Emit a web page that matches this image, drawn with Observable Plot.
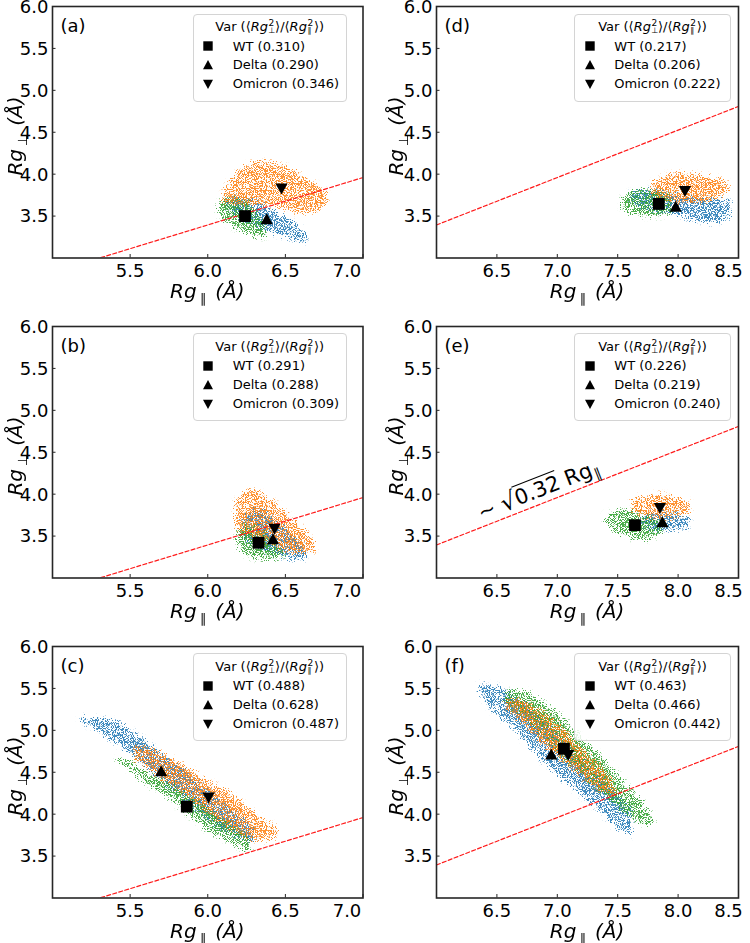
<!DOCTYPE html>
<html><head><meta charset="utf-8">
<script src="https://cdn.jsdelivr.net/npm/d3@7"></script>
<script src="https://cdn.jsdelivr.net/npm/@observablehq/plot@0.6"></script>
<style>
body{margin:0;background:#fff;font-family:"DejaVu Sans",sans-serif;}
#fig{position:relative;width:750px;height:943px;overflow:hidden;background:#fff;}
#fig svg.pl{position:absolute;overflow:visible;}
.leg{position:absolute;height:88px;border:1px solid #d4d4d4;border-radius:4px;background:rgba(255,255,255,0.85);box-sizing:border-box;font-size:13px;line-height:16px;color:#000;white-space:nowrap;}
.leg .t{position:absolute;left:0;right:0;top:4.8px;text-align:center;}
.leg .r{position:absolute;left:0;right:0;height:16px;}
.leg .r svg{position:absolute;left:8.6px;top:1.5px;}
.leg .r span.n{position:absolute;left:39px;top:0;}
.st{display:inline-block;position:relative;width:7px;height:12px;vertical-align:baseline;}
.st .p{position:absolute;left:0.5px;top:-0.6px;font-size:9px;line-height:9px;font-style:normal;}
.st .b{position:absolute;left:0.5px;top:7.9px;font-size:8px;line-height:8px;font-style:normal;}
.ax{position:absolute;font-size:20px;line-height:20px;white-space:nowrap;color:#000;filter:grayscale(1);}
.ax .sb{font-size:13px;position:relative;top:5px;margin-left:3px;margin-right:9px;font-style:normal;color:#000;}
.ann{position:absolute;font-size:21px;line-height:26px;white-space:nowrap;color:#000;transform-origin:0 20.3px;transform:rotate(-21.4deg);}
.ann .rad{font-size:24px;position:relative;top:1px;}
.ann .ol{border-top:1.4px solid #000;padding-top:0px;}
.ann .sb2{font-size:14px;position:relative;top:4px;margin-left:1px;}
</style></head>
<body>
<svg width="0" height="0" style="position:absolute"><defs id="fdefs"></defs></svg>
<div id="fig"></div>
<script>
// ---------- scales / ticks ----------
const xDomainLeft = [5.0, 7.0];
const xTicksLeft = [5.5, 6.0, 6.5, 7.0];
const xDomainRight = [6.0, 8.5];
const xTicksRight = [6.5, 7.0, 7.5, 8.0, 8.5];
const yDomain = [3.0, 6.0];
const yTicks = [3.5, 4.0, 4.5, 5.0, 5.5, 6.0];
const seriesNames = ["WT", "Delta", "Omicron"];
const lineCoef = Math.sqrt(0.32); // reference line  Rg_perp ~ sqrt(0.32) Rg_par

// ---------- clouds: [x, yLow, yHigh] extents ----------
const a_blue   = [[6.12,3.60,3.68],[6.18,3.50,3.72],[6.25,3.42,3.72],[6.32,3.36,3.67],[6.40,3.30,3.60],[6.47,3.26,3.52],[6.54,3.22,3.44],[6.60,3.19,3.36],[6.64,3.18,3.26]];
const a_orange = [[6.10,3.66,3.76],[6.16,3.63,3.96],[6.22,3.61,4.07],[6.30,3.61,4.14],[6.40,3.61,4.14],[6.50,3.57,4.09],[6.60,3.53,4.00],[6.70,3.55,3.88],[6.77,3.64,3.78]];
const a_green  = [[6.07,3.52,3.64],[6.11,3.44,3.72],[6.17,3.36,3.74],[6.23,3.30,3.70],[6.29,3.26,3.62],[6.34,3.24,3.52],[6.38,3.25,3.38]];

const b_blue   = [[6.22,3.50,3.70],[6.28,3.40,3.80],[6.34,3.34,3.82],[6.40,3.29,3.76],[6.46,3.25,3.66],[6.52,3.22,3.56],[6.58,3.21,3.46],[6.64,3.22,3.34]];
const b_orange = [[6.18,3.60,3.90],[6.24,3.52,4.02],[6.31,3.46,4.04],[6.38,3.41,3.97],[6.46,3.34,3.86],[6.54,3.29,3.72],[6.62,3.28,3.58],[6.69,3.31,3.44]];
const b_green  = [[6.19,3.38,3.52],[6.23,3.29,3.62],[6.28,3.24,3.64],[6.34,3.22,3.60],[6.40,3.22,3.48],[6.46,3.23,3.38],[6.50,3.26,3.32]];

const c_blue   = [[5.18,5.11,5.16],[5.31,4.96,5.14],[5.44,4.80,5.08],[5.57,4.62,4.92],[5.70,4.40,4.72],[5.83,4.20,4.56],[5.96,4.00,4.36],[6.09,3.80,4.16],[6.22,3.70,3.98],[6.30,3.65,3.82]];
const c_orange = [[5.53,4.64,4.84],[5.63,4.52,4.78],[5.74,4.36,4.70],[5.87,4.20,4.56],[6.00,4.00,4.40],[6.13,3.84,4.28],[6.26,3.70,4.08],[6.39,3.68,3.90],[6.45,3.72,3.84]];
const c_green  = [[5.42,4.60,4.66],[5.50,4.52,4.62],[5.57,4.40,4.54],[5.63,4.32,4.48],[5.74,4.20,4.40],[5.87,4.00,4.24],[6.00,3.80,4.08],[6.13,3.68,3.92],[6.22,3.58,3.80],[6.28,3.56,3.68]];

const d_blue   = [[7.60,3.65,3.77],[7.74,3.57,3.81],[7.88,3.53,3.79],[8.02,3.49,3.75],[8.16,3.43,3.73],[8.30,3.41,3.71],[8.44,3.47,3.67]];
const d_orange = [[7.78,3.74,3.88],[7.91,3.67,3.99],[8.05,3.65,4.01],[8.19,3.65,3.99],[8.32,3.69,3.95],[8.42,3.77,3.89]];
const d_green  = [[7.54,3.58,3.72],[7.63,3.51,3.79],[7.74,3.49,3.81],[7.85,3.49,3.79],[7.95,3.53,3.73]];

const e_blue   = [[7.70,3.61,3.74],[7.80,3.57,3.78],[7.91,3.55,3.78],[8.02,3.57,3.76],[8.10,3.61,3.72]];
const e_orange = [[7.62,3.80,3.94],[7.72,3.72,3.98],[7.86,3.70,4.00],[7.99,3.72,3.96],[8.10,3.76,3.90]];
const e_green  = [[7.40,3.67,3.76],[7.50,3.53,3.80],[7.61,3.47,3.80],[7.72,3.45,3.76],[7.83,3.49,3.70],[7.87,3.53,3.64]];

const f_blue   = [[6.35,5.46,5.55],[6.49,5.20,5.53],[6.65,5.00,5.42],[6.82,4.72,5.22],[6.99,4.48,5.00],[7.15,4.28,4.76],[7.32,4.08,4.52],[7.48,3.84,4.28],[7.62,3.73,4.04]];
const f_orange = [[6.57,5.28,5.40],[6.74,5.04,5.34],[6.90,4.80,5.20],[7.07,4.60,5.00],[7.23,4.40,4.76],[7.40,4.24,4.52],[7.48,4.20,4.36]];
const f_green  = [[6.56,5.32,5.46],[6.74,5.12,5.46],[6.90,4.88,5.32],[7.07,4.64,5.12],[7.23,4.44,4.88],[7.40,4.20,4.64],[7.57,4.00,4.36],[7.70,3.88,4.16],[7.80,3.85,3.96]];

// ---------- averages (WT, Delta, Omicron) as [x, y] ----------
const a_means = [[6.240,3.500],[6.380,3.460],[6.475,3.830]];
const b_means = [[6.327,3.420],[6.420,3.460],[6.430,3.590]];
const c_means = [[5.865,4.090],[5.700,4.510],[6.005,4.200]];
const d_means = [[7.840,3.645],[7.980,3.610],[8.057,3.800]];
const e_means = [[7.643,3.630],[7.870,3.665],[7.850,3.836]];
const f_means = [[7.055,4.780],[6.950,4.710],[7.090,4.707]];

// ---------- legend values Var(<Rg_perp^2>/<Rg_par^2>) ----------
const a_var = ["0.310","0.290","0.346"];
const b_var = ["0.291","0.288","0.309"];
const c_var = ["0.488","0.628","0.487"];
const d_var = ["0.217","0.206","0.222"];
const e_var = ["0.226","0.219","0.240"];
const f_var = ["0.463","0.466","0.442"];

const colors = {blue:"#1f77b4", orange:"#ff7f0e", green:"#2ca02c"};

const panels = [
  {letter:"(a)", col:0, row:0, blue:a_blue, orange:a_orange, green:a_green, means:a_means, vars:a_var},
  {letter:"(b)", col:0, row:1, blue:b_blue, orange:b_orange, green:b_green, means:b_means, vars:b_var},
  {letter:"(c)", col:0, row:2, blue:c_blue, orange:c_orange, green:c_green, means:c_means, vars:c_var},
  {letter:"(d)", col:1, row:0, blue:d_blue, orange:d_orange, green:d_green, means:d_means, vars:d_var},
  {letter:"(e)", col:1, row:1, blue:e_blue, orange:e_orange, green:e_green, means:e_means, vars:e_var, note:true},
  {letter:"(f)", col:1, row:2, blue:f_blue, orange:f_orange, green:f_green, means:f_means, vars:f_var}
];

// ---------- layout ----------
const geom = {colL:[52,436], colW:[310.5,302], svgLeft:[0,375], rowT:[6.3,326,646], H:251.5,
              legLeft:[140.7,138.3], legW:[154,156.5], lastShift:[-16,-10], yLabX:[16.1,397.1]};

// speckle filters (texture for the scatter clouds)
const seeds = {blue:3, orange:11, green:23};
document.getElementById("fdefs").innerHTML = Object.keys(colors).map(k => `
 <filter id="sp-${k}" filterUnits="userSpaceOnUse" x="-60" y="-60" width="520" height="420" color-interpolation-filters="sRGB">
  <feGaussianBlur in="SourceAlpha" stdDeviation="2.1" result="b"/>
  <feTurbulence type="fractalNoise" baseFrequency="1.1" numOctaves="1" seed="${seeds[k]}" result="n"/>
  <feColorMatrix in="n" type="matrix" values="0 0 0 0 0  0 0 0 0 0  0 0 0 0 0  2.6 0 0 0 -0.8" result="na"/>
  <feComposite in="b" in2="na" operator="arithmetic" k1="0" k2="0.56" k3="-1" k4="0" result="d"/>
  <feComponentTransfer in="d" result="m"><feFuncA type="linear" slope="9" intercept="0"/></feComponentTransfer>
  <feFlood flood-color="${colors[k]}" result="c"/>
  <feComposite in="c" in2="m" operator="in"/>
 </filter>`).join("");

// marker symbols
const symSquare = {draw(c, size){const r=Math.sqrt(size/Math.PI); c.moveTo(-r,-r); c.lineTo(r,-r); c.lineTo(r,r); c.lineTo(-r,r); c.closePath();}};
const symUp = {draw(c, size){const r=Math.sqrt(size/Math.PI); c.moveTo(0,-r); c.lineTo(r,0.8*r); c.lineTo(-r,0.8*r); c.closePath();}};
const symDown = {draw(c, size){const r=Math.sqrt(size/Math.PI); c.moveTo(0,r); c.lineTo(r,-0.8*r); c.lineTo(-r,-0.8*r); c.closePath();}};
const legendIcons = [
  '<svg width="12" height="12" viewBox="-6 -6 12 12"><rect x="-4.7" y="-4.7" width="9.4" height="9.4" fill="#000"/></svg>',
  '<svg width="12" height="12" viewBox="-6 -6 12 12"><polygon points="0,-5 5,4.2 -5,4.2" fill="#000"/></svg>',
  '<svg width="12" height="12" viewBox="-6 -6 12 12"><polygon points="0,5 5,-4.2 -5,-4.2" fill="#000"/></svg>'
];

const fig = document.getElementById("fig");
const titleHTML = (s) => `Var (⟨<i>Rg</i><span class="st"><span class="p">2</span><span class="b">${s}</span></span>⟩/⟨<i>Rg</i><span class="st"><span class="p">2</span><span class="b">∥</span></span>⟩)`;

for (const p of panels) {
  const col = p.col, row = p.row;
  const L = geom.colL[col], W = geom.colW[col], T = geom.rowT[row], H = geom.H;
  const sx = geom.svgLeft[col];
  const mt = 10, mb = 46;
  const ml = L - sx, mr = 375 - ml - W;
  const xDomain = col === 0 ? xDomainLeft : xDomainRight;
  const xTicks = col === 0 ? xTicksLeft : xTicksRight;
  const linePts = xDomain.map(x => ({x, y: lineCoef * x}));
  const acc = {x: d => d[0], y1: d => d[1], y2: d => d[2], curve: "catmull-rom"};
  const chart = Plot.plot({
    width: 375, height: H + mt + mb,
    marginLeft: ml, marginRight: mr, marginTop: mt, marginBottom: mb,
    x: {domain: xDomain, axis: null},
    y: {domain: yDomain, axis: null},
    style: {fontFamily: "'DejaVu Sans', sans-serif", background: "transparent", color: "#000"},
    marks: [
      Plot.areaY(p.blue, {...acc, fill: colors.blue}),
      Plot.areaY(p.green, {...acc, fill: colors.green}),
      Plot.areaY(p.orange, {...acc, fill: colors.orange}),
      Plot.line(linePts, {x: "x", y: "y", stroke: "#ff1a1a", strokeWidth: 1.2, strokeDasharray: "4,2.3", clip: true}),
      Plot.dot([p.means[0]], {x: d => d[0], y: d => d[1], symbol: symSquare, r: 5.9, fill: "#000", stroke: "none"}),
      Plot.dot([p.means[1]], {x: d => d[0], y: d => d[1], symbol: symUp, r: 6.1, fill: "#000", stroke: "none"}),
      Plot.dot([p.means[2]], {x: d => d[0], y: d => d[1], symbol: symDown, r: 6.1, fill: "#000", stroke: "none"}),
      Plot.tickX(xTicks, {x: d => d, insetTop: H - 3.5, stroke: "#262626", strokeWidth: 1}),
      Plot.tickY(yTicks, {y: d => d, insetRight: W - 3.5, stroke: "#262626", strokeWidth: 1}),
      Plot.text(xTicks.slice(0, -1), {x: d => d, text: d => d.toFixed(1), frameAnchor: "bottom", lineAnchor: "top", dy: 6, fontSize: 18, fill: "#000"}),
      Plot.text(xTicks.slice(-1), {x: d => d, text: d => d.toFixed(1), frameAnchor: "bottom", lineAnchor: "top", dy: 6, dx: geom.lastShift[col], fontSize: 18, fill: "#000"}),
      Plot.text(yTicks, {y: d => d, text: d => d.toFixed(1), frameAnchor: "left", textAnchor: "end", dx: -4, dy: 0.6, fontSize: 18, fill: "#000"}),
      Plot.text([p.letter], {text: d => d, frameAnchor: "top-left", textAnchor: "start", lineAnchor: "top", dx: 8, dy: 13.2, fontSize: 18, fill: "#000"}),
      Plot.frame({stroke: "#262626", strokeWidth: 1.6})
    ]
  });
  chart.classList.add("pl");
  chart.style.left = sx + "px";
  chart.style.top = (T - mt) + "px";
  const areas = chart.querySelectorAll('g[aria-label="area"]');
  ["blue", "green", "orange"].forEach((k, i) => {
    if (areas[i]) { areas[i].setAttribute("filter", `url(#sp-${k})`); areas[i].setAttribute("opacity", "0.85"); }
  });
  fig.appendChild(chart);

  // legend
  const leg = document.createElement("div");
  leg.className = "leg";
  leg.style.left = (L + geom.legLeft[col]) + "px";
  leg.style.top = (T + 7.4) + "px";
  leg.style.width = geom.legW[col] + "px";
  let html = `<div class="t">${titleHTML("⊥")}</div>`;
  const tops = [24.1, 42.8, 61.8];
  seriesNames.forEach((n, i) => {
    html += `<div class="r" style="top:${tops[i]}px">${legendIcons[i]}<span class="n">${n} (${p.vars[i]})</span></div>`;
  });
  leg.innerHTML = html;
  fig.appendChild(leg);

  // x label (baseline ~39px below the frame)
  const xl = document.createElement("div");
  xl.className = "ax";
  xl.innerHTML = `<i>Rg</i><span class="sb">∥</span><i>(Å)</i>`;
  xl.style.left = (L + W / 2) + "px";
  xl.style.top = (T + H + 23) + "px";
  xl.style.transform = "translateX(-50%)";
  fig.appendChild(xl);

  // y label
  const yl = document.createElement("div");
  yl.className = "ax";
  yl.innerHTML = `<i>Rg</i><span class="sb">⊥</span><i>(Å)</i>`;
  yl.style.left = geom.yLabX[col] + "px";
  yl.style.top = (T + H / 2 + 4) + "px";
  yl.style.transform = "translate(-50%,-50%) rotate(-90deg)";
  fig.appendChild(yl);

  if (p.note) {
    const an = document.createElement("div");
    an.className = "ann";
    an.innerHTML = `~ <span class="rad">√</span><span class="ol">0.32</span> Rg<span class="sb2">∥</span>`;
    an.style.left = "481px";
    an.style.top = (T + 193 - 20.3) + "px";
    fig.appendChild(an);
  }
}
</script>
</body></html>
